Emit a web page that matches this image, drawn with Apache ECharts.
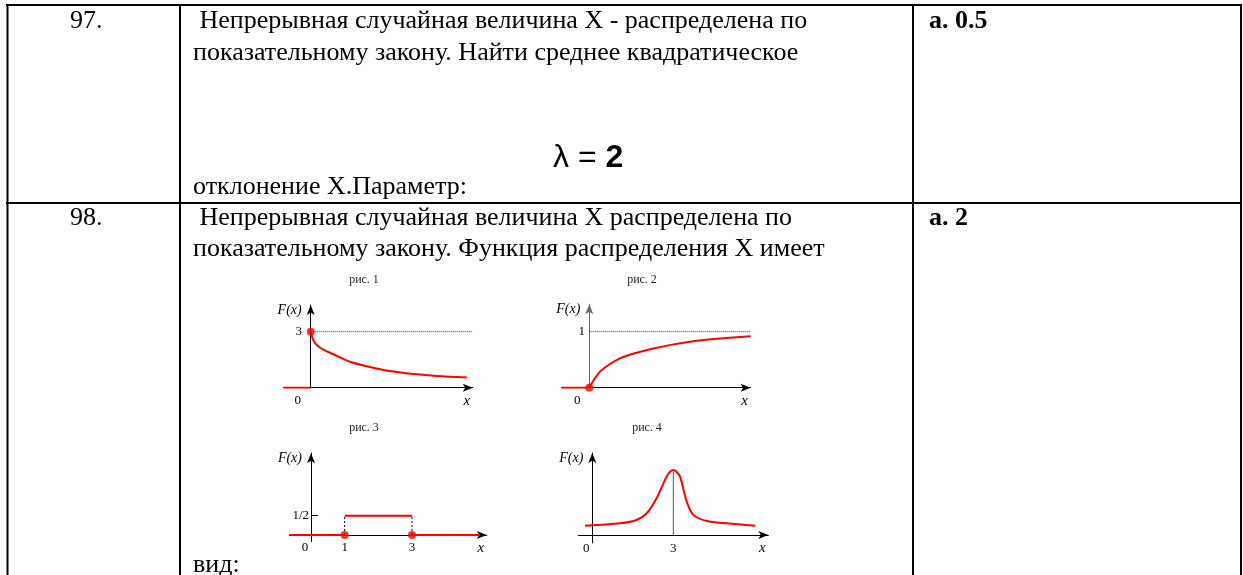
<!DOCTYPE html>
<html>
<head>
<meta charset="utf-8">
<script src="https://cdn.jsdelivr.net/npm/echarts@6/dist/echarts.min.js"></script>
<style>
  html, body { margin: 0; padding: 0; background: #fff; }
  #main { width: 1243px; height: 575px; }
</style>
</head>
<body>
<div id="main"></div>
<script>
// рис. 1 — убывающая кривая
const fig1X = [0, 0.14, 0.32, 0.7, 1.21, 2.1, 3.0, 3.89, 4.8, 5.68, 6.6, 7.46, 8.36];
const fig1Y = [3, 2.55, 2.29, 2.02, 1.79, 1.39, 1.15, 0.95, 0.82, 0.72, 0.64, 0.59, 0.54];
const fig1Left = [-1.45, 0];
const fig1Level = 3;

// рис. 2 — возрастающая кривая
const fig2X = [0, 0.13, 0.57, 1.1, 1.64, 2.5, 3.43, 4.3, 5.21, 6.1, 7.0, 8.64];
const fig2Y = [0, 0.079, 0.286, 0.42, 0.525, 0.62, 0.70, 0.76, 0.81, 0.85, 0.88, 0.92];
const fig2Left = [-1.48, 0];
const fig2Level = 1;

// рис. 3 — ступенька на [1, 3]
const fig3Left = [-0.64, 1];
const fig3Right = [3, 5.02];
const fig3Step = [1, 3];
const fig3Level = 0.5;

// рис. 4 — пик в точке 3
const fig4X = [-0.27, 1.03, 1.64, 2.01, 2.38, 2.75, 2.9, 3, 3.1, 3.25, 3.5, 3.74, 4.24, 4.98, 6.03];
const fig4Y = [0.143, 0.18, 0.23, 0.33, 0.565, 0.897, 0.98, 1.0, 0.98, 0.897, 0.51, 0.31, 0.215, 0.18, 0.143];
const fig4Peak = 3;

// подписи осей
const fig1XTicks = [0], fig1YTicks = [3];
const fig2XTicks = [0], fig2YTicks = [1];
const fig3XTicks = [0, 1, 3], fig3YTicks = [0.5], fig3YLabels = ['1/2'];
const fig4XTicks = [0, 3];
const figTitles = ['рис. 1', 'рис. 2', 'рис. 3', 'рис. 4'];

const RED = '#ff0000';
const SERIF = 'Liberation Serif';
const MAIN_FONT = '26px "Liberation Serif"';
const BOLD_FONT = 'bold 26px "Liberation Serif"';

// начало координат (px), масштабы, диапазоны осей, отступы подписей
const figs = [
  { ox: 310.7, oy: 387.7, sx: 18.67, sy: 18.67, xr: [-1.45, 8.68], yr: [0, 4.43], zero: 13, xMargin: 6, yLabelRight: 302, title: [364, 280], yColor: '#000' },
  { ox: 589.3, oy: 387.7, sx: 18.67, sy: 56, xr: [-1.48, 8.64], yr: [0, 1.49], zero: 12, xMargin: 6, yLabelRight: 585, title: [642, 280], yColor: '#666' },
  { ox: 311, oy: 535, sx: 33.67, sy: 38.6, xr: [-0.64, 5.22], yr: [-0.17, 2.12], zero: 6, xMargin: 0, yLabelRight: 309, title: [364, 428], yColor: '#000' },
  { ox: 592.3, oy: 535, sx: 27, sy: 65, xr: [-0.52, 6.52], yr: [-0.12, 1.26], zero: 6, xMargin: -1, yLabelRight: 585, title: [647, 428], yColor: '#000' }
];
const xTicks = [fig1XTicks, fig2XTicks, fig3XTicks, fig4XTicks];
const yTicks = [fig1YTicks, fig2YTicks, fig3YTicks, []];

const zip = (xs, ys) => xs.map((x, i) => [x, ys[i]]);

const grids = figs.map(f => ({
  left: f.ox + f.xr[0] * f.sx,
  top: f.oy - f.yr[1] * f.sy,
  width: (f.xr[1] - f.xr[0]) * f.sx,
  height: (f.yr[1] - f.yr[0]) * f.sy
}));

const xAxes = figs.map((f, i) => ({
  type: 'value', gridIndex: i, min: f.xr[0], max: f.xr[1],
  axisLine: { onZero: true, symbol: ['none', 'arrow'], symbolSize: [6, 10], lineStyle: { color: '#000', width: 1 } },
  axisTick: { show: false },
  splitLine: { show: false },
  axisLabel: {
    customValues: xTicks[i], margin: f.xMargin, color: '#000', fontFamily: SERIF, fontSize: 13,
    formatter: v => v === 0 ? '{z|0}' : '{n|' + v + '}',
    rich: {
      z: { fontFamily: SERIF, fontSize: 13, color: '#000', padding: [0, f.zero * 2, 0, 0] },
      n: { fontFamily: SERIF, fontSize: 13, color: '#000' }
    }
  },
  name: 'x', nameLocation: 'end', nameGap: -6,
  nameTextStyle: { fontFamily: SERIF, fontStyle: 'italic', fontSize: 15, color: '#000', align: 'center', verticalAlign: 'top', padding: [6, 0, 0, 0] }
}));

const yAxes = figs.map((f, i) => ({
  type: 'value', gridIndex: i, min: f.yr[0], max: f.yr[1],
  axisLine: { onZero: true, symbol: ['none', 'arrow'], symbolSize: [6, 10], lineStyle: { color: f.yColor, width: 1 } },
  axisTick: { show: i === 2, customValues: fig3YTicks, inside: true, length: 7, lineStyle: { color: '#000' } },
  splitLine: { show: false },
  axisLabel: {
    customValues: yTicks[i], margin: grids[i].left - f.yLabelRight, color: '#000', fontFamily: SERIF, fontSize: 13,
    formatter: v => (i === 2 ? fig3YLabels[fig3YTicks.indexOf(v)] : String(v))
  },
  name: 'F(x)', nameLocation: 'end', nameGap: -5,
  nameTextStyle: { fontFamily: SERIF, fontStyle: 'italic', fontSize: 14, color: '#000', align: 'right', verticalAlign: 'middle', padding: [0, 9, 0, 0] }
}));

function line(i, data, opt) {
  return Object.assign({
    type: 'line', xAxisIndex: i, yAxisIndex: i, data: data, showSymbol: false, silent: true,
    lineStyle: { color: RED, width: 2 }
  }, opt || {});
}
function dots(i, data) {
  return { type: 'scatter', xAxisIndex: i, yAxisIndex: i, data: data, symbolSize: 8, z: 5, silent: true, itemStyle: { color: RED } };
}
const curve = { smooth: 0.3 };

const series = [
  // рис. 1
  line(0, zip(fig1X, fig1Y), curve),
  line(0, [[fig1Left[0], 0], [fig1Left[1], 0]]),
  line(0, [[0, fig1Level], [figs[0].xr[1], fig1Level]], { lineStyle: { color: '#333', width: 1, type: 'dotted' }, z: 1 }),
  dots(0, [[0, fig1Level]]),
  // рис. 2
  line(1, zip(fig2X, fig2Y), curve),
  line(1, [[fig2Left[0], 0], [fig2Left[1], 0]]),
  line(1, [[0, fig2Level], [figs[1].xr[1], fig2Level]], { lineStyle: { color: '#333', width: 1, type: 'dotted' }, z: 1 }),
  dots(1, [[0, 0]]),
  // рис. 3
  line(2, [[fig3Left[0], 0], [fig3Left[1], 0]]),
  line(2, [[fig3Right[0], 0], [fig3Right[1], 0]]),
  line(2, [[fig3Step[0], fig3Level], [fig3Step[1], fig3Level]]),
  line(2, [[fig3Step[0], 0], [fig3Step[0], fig3Level]], { lineStyle: { color: '#000', width: 1, type: [2, 2] }, z: 1 }),
  line(2, [[fig3Step[1], 0], [fig3Step[1], fig3Level]], { lineStyle: { color: '#000', width: 1, type: [2, 2] }, z: 1 }),
  dots(2, fig3Step.map(x => [x, 0])),
  // рис. 4
  line(3, zip(fig4X, fig4Y), curve),
  line(3, [[fig4Peak, 0], [fig4Peak, fig4Y[fig4X.indexOf(fig4Peak)]]], { lineStyle: { color: '#555', width: 1 }, z: 1 })
];

const titles = figs.map((f, i) => ({
  text: figTitles[i], left: f.title[0], top: f.title[1], padding: 0,
  textAlign: 'center', textVerticalAlign: 'middle',
  textStyle: { fontFamily: SERIF, fontSize: 12, fontWeight: 'normal', color: '#222' }
}));

// таблица: линии и текст
const hLine = (x1, x2, y) => ({ type: 'line', shape: { x1, y1: y, x2, y2: y }, style: { stroke: '#000', lineWidth: 2 }, silent: true });
const vLine = (x, y1, y2) => ({ type: 'line', shape: { x1: x, y1, x2: x, y2 }, style: { stroke: '#000', lineWidth: 2 }, silent: true });
const txt = (x, y, text, extra) => ({
  type: 'text', x, y, silent: true,
  style: Object.assign({ text, fill: '#000', font: MAIN_FONT, verticalAlign: 'middle' }, extra || {})
});

const graphic = [
  hLine(6, 1242, 5),
  hLine(6, 1242, 203),
  vLine(7.5, 4, 575),
  vLine(180, 4, 575),
  vLine(913, 4, 575),
  vLine(1241, 4, 575),
  txt(70, 21, '97.'),
  txt(193, 21, ' Непрерывная случайная величина Х - распределена по'),
  txt(193, 53, 'показательному закону. Найти среднее квадратическое'),
  txt(193, 187, 'отклонение Х.Параметр:'),
  { type: 'text', x: 553, y: 158, silent: true,
    style: { text: '{l|λ = }{b|2}', verticalAlign: 'middle',
      rich: { l: { font: '32px "Liberation Sans"', fill: '#000' }, b: { font: 'bold 32px "Liberation Sans"', fill: '#000' } } } },
  txt(929, 21, 'а. 0.5', { font: BOLD_FONT }),
  txt(70, 218, '98.'),
  txt(193, 218, ' Непрерывная случайная величина Х распределена по'),
  txt(193, 249, 'показательному закону. Функция распределения Х имеет'),
  txt(929, 218, 'а. 2', { font: BOLD_FONT }),
  txt(193, 565, 'вид:')
];

const chart = echarts.init(document.getElementById('main'));
chart.setOption({
  animation: false,
  backgroundColor: '#fff',
  title: titles,
  grid: grids,
  xAxis: xAxes,
  yAxis: yAxes,
  series: series,
  graphic: graphic
});
</script>
</body>
</html>
